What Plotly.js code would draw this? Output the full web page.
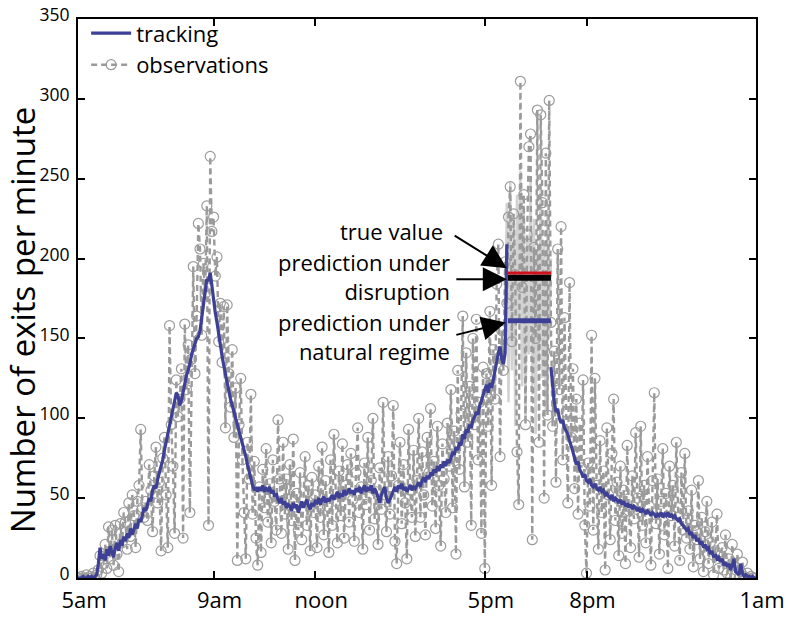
<!DOCTYPE html>
<html>
<head>
<meta charset="utf-8">
<script src="https://cdn.plot.ly/plotly-3.0.1.min.js"></script>
<style>html,body{margin:0;padding:0;background:#fff;}#chart{width:789px;height:617px;}</style>
</head>
<body>
<div id="chart"></div>
<script>
// minutes after 5am, one sample every 3 minutes (0..1200)
const stepMinutes = 3;
const tickMinutes = [0, 240, 420, 720, 900, 1200];
const tickLabels = ['5am', '9am', 'noon', '5pm', '8pm', '1am'];

// tracking (filtered estimate), null during the disruption window
const tracking = [
  0,0,0,1,0,0,1,0,1,0,1,2,9,19,12,15,11,18,14,20,
  16,13,19,22,17,24,20,26,23,28,25,31,27,30,34,31,37,35,40,44,
  42,47,50,48,55,58,56,62,66,69,74,80,85,90,96,101,106,112,116,114,
  108,111,117,122,127,130,134,140,143,147,150,151,155,163,172,180,187,186,191,183,
  172,166,160,152,146,139,133,127,121,117,112,108,104,100,96,93,89,85,80,76,
  71,66,62,58,55,57,54,57,55,58,54,56,55,57,53,55,51,53,49,47,
  50,46,48,44,46,45,42,47,44,46,41,45,48,44,46,49,45,43,47,45,
  48,47,50,46,49,51,47,50,48,50,52,49,51,54,50,53,51,55,52,54,
  56,53,55,52,56,54,57,53,56,58,54,57,55,58,53,56,54,50,47,52,
  55,57,50,47,49,52,55,57,54,58,56,59,55,57,54,56,58,55,57,56,
  58,60,57,61,63,60,64,62,66,64,68,66,70,67,71,69,73,70,74,72,
  75,79,77,82,80,85,83,90,87,93,91,96,94,99,101,104,102,108,111,115,
  118,121,116,122,119,124,130,136,141,145,137,134,141,209,null,null,null,null,null,null,
  null,null,null,null,null,null,null,null,null,null,null,null,null,null,null,null,null,null,null,132,
  118,110,104,106,100,97,99,94,92,90,86,83,79,75,71,73,68,66,63,65,
  61,60,62,58,57,59,56,55,57,54,55,52,53,51,50,52,48,50,49,47,
  49,46,48,45,47,44,46,43,45,44,42,44,41,43,42,40,42,41,39,41,
  40,38,40,39,41,38,40,39,41,38,40,38,39,37,36,37,34,33,31,30,
  31,27,29,25,27,23,25,21,23,19,21,18,19,15,17,13,15,12,13,10,
  12,8,10,7,9,5,8,12,4,3,2,9,3,1,2,1,1,0,1,0,0
];

// observed exits per minute
const observations = [
  0,0,1,0,0,2,0,1,0,3,0,2,5,14,3,9,21,6,32,12,
  30,8,33,15,4,34,22,41,35,18,47,26,52,39,19,48,58,93,44,38,
  48,36,71,55,29,64,82,47,60,17,75,88,52,19,158,96,70,28,124,101,
  112,131,25,159,118,146,41,137,195,128,164,222,206,152,197,178,233,33,264,217,
  226,189,201,148,172,135,170,94,171,128,107,143,88,119,11,96,125,74,41,12,
  85,62,115,40,73,25,8,57,16,68,44,81,35,59,22,74,48,30,99,62,
  28,85,40,62,18,71,36,87,11,53,30,66,24,49,76,33,58,17,63,41,
  52,19,70,38,82,27,61,45,16,74,33,90,48,22,67,39,84,25,58,71,
  35,78,49,23,66,94,41,57,18,72,46,88,30,61,100,37,54,21,69,43,
  110,52,29,76,40,64,108,23,9,58,85,34,71,47,12,93,55,38,80,26,
  61,100,38,79,52,27,88,66,106,45,73,31,95,58,20,84,62,41,97,70,
  118,44,92,15,130,68,103,164,57,141,85,120,33,150,96,162,74,110,28,132,
  6,128,95,167,58,143,112,184,209,76,155,130,198,172,226,245,148,228,190,79,
  46,311,182,240,96,215,270,278,24,207,150,293,85,290,235,50,266,102,299,160,
  95,142,60,206,118,220,74,163,104,47,185,88,131,56,112,40,97,69,124,33,
  3,72,45,152,30,125,58,18,86,41,67,5,94,52,24,78,112,36,60,14,
  70,28,55,9,83,42,19,64,37,91,50,13,95,33,58,22,76,45,8,61,
  116,34,62,15,48,81,27,53,6,70,39,58,20,85,44,11,66,30,78,25,
  42,18,55,7,33,24,61,12,38,4,29,48,9,22,35,2,17,40,6,14,
  19,5,27,3,12,0,21,8,2,15,0,4,10,1,0,3,0,1,0,0,0
];

// light grey observations inside the disruption window (from 756 min)
const disruptionStart = 756;
const disruptionObs = [150,235,110,248,130,220,95,240,160,255,120,230,100,215,140,250,115,225,90,205,135,245,125,210,105,230,150,200];

// prediction window and levels
const predictionWindow = [761, 837];
const trueValue = 188;
const predDisruption = 191;
const predNatural = 161;

const FONT = 'Open Sans, DejaVu Sans, sans-serif';

const traces = [
  {x0: disruptionStart, dx: stepMinutes, y: disruptionObs, type: 'scatter', mode: 'lines',
   line: {color: '#d2d2d2', width: 2.5}, showlegend: false, hoverinfo: 'skip'},
  {x0: 0, dx: stepMinutes, y: observations, type: 'scatter', mode: 'lines+markers', name: 'observations',
   line: {color: '#9a9a9a', width: 2.4, dash: '6px,4px'},
   marker: {symbol: 'circle-open', size: 10, color: '#9c9c9c', line: {width: 1.2}},
   legendrank: 2},
  {x0: 0, dx: stepMinutes, y: tracking, type: 'scatter', mode: 'lines', name: 'tracking',
   line: {color: '#3d4095', width: 3.2}, connectgaps: false, legendrank: 1},
  {x: predictionWindow, y: [trueValue, trueValue], type: 'scatter', mode: 'lines',
   line: {color: '#000000', width: 6}, showlegend: false},
  {x: predictionWindow, y: [predDisruption, predDisruption], type: 'scatter', mode: 'lines',
   line: {color: '#d0101a', width: 3}, showlegend: false},
  {x: predictionWindow, y: [predNatural, predNatural], type: 'scatter', mode: 'lines',
   line: {color: '#3d4095', width: 5}, showlegend: false}
];

const arrow = (tx, ty, hx, hy) => ({
  x: hx, y: hy, ax: tx, ay: ty, axref: 'x', ayref: 'y', xref: 'x', yref: 'y',
  text: '', showarrow: true, arrowhead: 2, arrowsize: 2.4, arrowwidth: 2, arrowcolor: '#000'
});
const label = (txt, x, y) => ({
  x: x, y: y, xref: 'x', yref: 'y', text: txt, showarrow: false, xanchor: 'right', yanchor: 'middle',
  align: 'right', font: {family: FONT, size: 22, color: '#000'}
});

const layout = {
  width: 789, height: 617,
  margin: {l: 78, r: 33, t: 13, b: 39},
  paper_bgcolor: '#fff', plot_bgcolor: '#fff',
  font: {family: FONT, color: '#000'},
  showlegend: true,
  legend: {x: 0.012, y: 1.012, xanchor: 'left', yanchor: 'top', bgcolor: 'rgba(0,0,0,0)',
           font: {family: FONT, size: 22}, tracegroupgap: 0, itemwidth: 40},
  xaxis: {range: [0, 1200], tickvals: tickMinutes, ticktext: tickLabels,
          ticks: 'inside', ticklen: 7, tickwidth: 2, tickcolor: '#000',
          showline: true, linewidth: 2, linecolor: '#000', mirror: 'ticks',
          ticklabelshift: 6, ticklabelstandoff: 2,
          showgrid: false, zeroline: false, tickfont: {family: FONT, size: 22}},
  yaxis: {range: [0, 350], dtick: 50, ticks: 'inside', ticklen: 7, tickwidth: 2, tickcolor: '#000',
          showline: true, linewidth: 2, linecolor: '#000', mirror: 'ticks',
          ticklabelshift: -4, ticklabelstandoff: 3,
          showgrid: false, zeroline: false, tickfont: {family: FONT, size: 17.5},
          title: {text: 'Number of exits per minute\u00a0\u00a0\u00a0\u00a0\u00a0\u200b', font: {family: FONT, size: 33}, standoff: 4}},
  annotations: [
    arrow(664, 215, 759, 194),
    arrow(667, 187, 759, 187),
    arrow(667, 152, 757, 160),
    label('true value', 650, 217),
    label('prediction under<br>disruption', 662, 189),
    label('prediction under<br>natural regime', 662, 151.5)
  ]
};

Plotly.newPlot('chart', traces, layout, {displayModeBar: false, staticPlot: true});
</script>
</body>
</html>
